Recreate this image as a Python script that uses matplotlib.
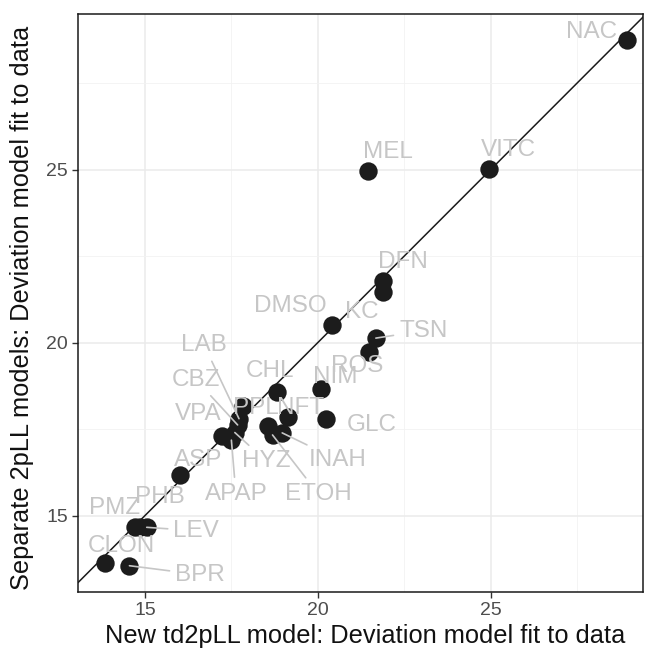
import matplotlib
matplotlib.use("Agg")
import matplotlib.pyplot as plt
import numpy as np

plt.rcParams['font.family'] = ['Liberation Sans', 'DejaVu Sans']

# ---- data ----
names = ["NAC", "VITC", "MEL", "DFN", "KC", "DMSO", "TSN", "ROS", "NIM", "GLC",
         "CHL", "NFT", "PPL", "LAB", "CBZ", "HYZ", "VPA", "APAP", "ASP",
         "", "ETOH", "INAH", "PMZ", "PHB", "LEV", "CLON", "BPR"]
new_td2pll = [28.94, 24.94, 21.46, 21.88, 21.88, 20.40, 21.68, 21.49, 20.09, 20.24,
              18.83, 19.15, 17.85, 17.72, 17.68, 17.60, 17.22, 17.50, 16.01,
              18.55, 18.69, 18.97, 14.71, 14.86, 15.05, 13.84, 14.55]
separate_2pll = [28.75, 25.02, 24.97, 21.79, 21.47, 20.51, 20.13, 19.72, 18.66, 17.79,
                 18.57, 17.86, 18.17, 17.80, 17.62, 17.40, 17.30, 17.18, 16.16,
                 17.59, 17.33, 17.39, 14.68, 14.68, 14.66, 13.62, 13.55]
x_ticks = [15, 20, 25]
y_ticks = [15, 20, 25]
x_title = "New td2pLL model: Deviation model fit to data"
y_title = "Separate 2pLL models: Deviation model fit to data"

# ---- label layout (repelled label centres, data units) ----
label_pos = {
    "NAC": (27.91, 28.97), "VITC": (25.51, 25.57), "MEL": (22.03, 25.50),
    "DFN": (22.47, 22.33), "KC": (21.28, 20.89), "DMSO": (19.20, 21.06),
    "TSN": (23.05, 20.34), "ROS": (21.14, 19.33), "NIM": (20.50, 19.01),
    "GLC": (21.57, 17.62), "CHL": (18.62, 19.18), "NFT": (19.49, 18.11),
    "PPL": (18.21, 18.11), "LAB": (16.71, 19.93), "CBZ": (16.48, 18.92),
    "HYZ": (18.50, 16.58), "VPA": (16.53, 17.94), "APAP": (17.63, 15.63),
    "ASP": (16.53, 16.61), "ETOH": (20.01, 15.63), "INAH": (20.58, 16.61),
    "PMZ": (14.13, 15.22), "PHB": (15.43, 15.54), "LEV": (16.48, 14.56),
    "CLON": (14.33, 14.12), "BPR": (16.59, 13.29),
}
with_segment = {"TSN", "LAB", "CBZ", "HYZ", "APAP", "ETOH", "INAH", "LEV", "BPR"}

W, H = 645, 649
fig = plt.figure(figsize=(W / 100, H / 100), dpi=100)
L, R, T, B = 78.3, 643, 14, 592
ax = fig.add_axes([L / W, 1 - B / H, (R - L) / W, (B - T) / H])

# grid like theme_bw
ax.set_xticks(x_ticks)
ax.set_yticks(y_ticks)
ax.set_xticks([12.5, 17.5, 22.5, 27.5], minor=True)
ax.set_yticks([12.5, 17.5, 22.5, 27.5], minor=True)
ax.grid(True, which='major', color='#ebebeb', lw=1.1, zorder=0)
ax.grid(True, which='minor', color='#f2f2f2', lw=0.6, zorder=0)
ax.tick_params(which='minor', length=0)
ax.tick_params(which='major', direction='out', length=4.5, width=1.0,
               color='#333333', labelcolor='#4d4d4d', labelsize=14, pad=3)
for sp in ax.spines.values():
    sp.set_color('#1a1a1a')
    sp.set_linewidth(1.1)
ax.set_axisbelow(True)

# identity line
ax.axline((15, 15), (25, 25), color='#1a1a1a', lw=1.1, zorder=2)

# points
ax.scatter(new_td2pll, separate_2pll, s=175, color='#1c1c1c', zorder=3,
           linewidths=0)

ax.set_xlim(13.07, 29.41)
ax.set_ylim(12.79, 29.50)

# labels
for n, xv, yv in zip(names, new_td2pll, separate_2pll):
    if not n:
        continue
    lx, ly = label_pos[n]
    if n in with_segment:
        ax.annotate(n, xy=(xv, yv), xytext=(lx, ly), ha='center', va='center',
                    fontsize=17.5, color='#c6c6c6', zorder=4,
                    arrowprops=dict(arrowstyle='-', color='#c6c6c6', lw=1.2,
                                    shrinkA=2, shrinkB=0))
    else:
        ax.text(lx, ly, n, ha='center', va='center', fontsize=17.5,
                color='#c6c6c6', zorder=4)

fig.text(365.5 / W, 1 - 636 / H, x_title, ha='center', va='center',
         fontsize=18.3, color='#111111')
fig.text(22 / W, 1 - 308 / H, y_title, ha='center', va='center',
         rotation=90, fontsize=18.3, color='#111111')

fig.savefig("out.png", dpi=100)
